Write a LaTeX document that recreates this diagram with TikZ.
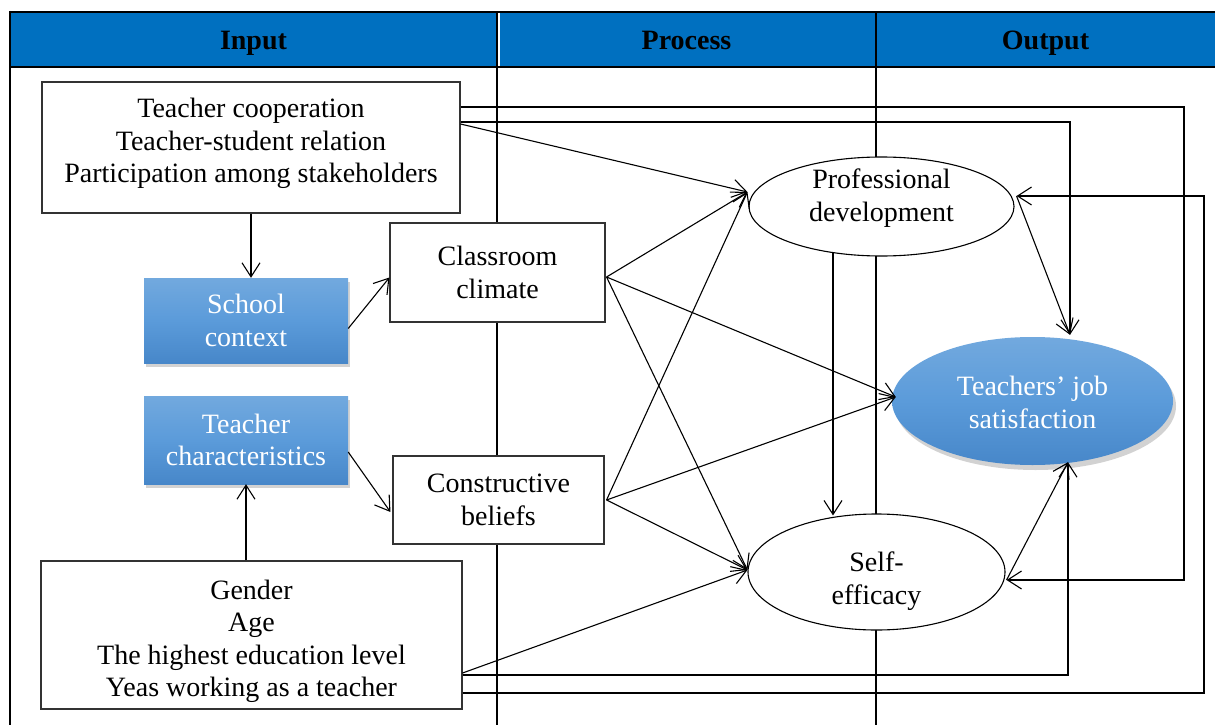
\documentclass[tikz,border=0pt]{standalone}
\usepackage{fontspec}
\setmainfont{Liberation Serif}
\usetikzlibrary{arrows.meta,shapes.geometric,shadows,calc}
\definecolor{hdr}{HTML}{0070C0}
\definecolor{btop}{HTML}{72A9DE}
\definecolor{bmid}{HTML}{5B9BDA}
\definecolor{bbot}{HTML}{4787C9}
\newcommand\myfs{\fontsize{28}{32.5}\selectfont}
\begin{document}
\begin{tikzpicture}[x=1pt,y=-1pt,
  tline/.style={line width=2.2pt, black},
  wbox/.style={rectangle, draw=black!80, line width=1.1pt, fill=white, align=center, inner sep=0pt, font=\myfs},
  bbox/.style={rectangle, top color=btop, bottom color=bbot, middle color=bmid, text=white, align=center, inner sep=0pt, font=\myfs,
     drop shadow={opacity=0.35, shadow xshift=2pt, shadow yshift=-4pt}},
  well/.style={ellipse, draw=black, line width=1.1pt, fill=white, inner sep=0pt},
  bell/.style={ellipse, top color=btop, bottom color=bbot, middle color=bmid, inner sep=0pt,
     drop shadow={opacity=0.35, shadow xshift=3pt, shadow yshift=-5pt}},
  txt/.style={align=center, inner sep=0pt, font=\myfs},
  hd/.style={inner sep=0pt, font=\myfs\bfseries, anchor=base},
  arr/.style={line width=1.1pt, -{Straight Barb[length=14pt,width=18pt]}},
  ln/.style={line width=1.1pt}]
\useasboundingbox (0,0) rectangle (1215,725);
\fill[white] (0,0) rectangle (1215,725);
% table
\fill[hdr] (10,12) rectangle (1215,67);
\draw[tline] (10,12) -- (1215,12);
\draw[tline] (10,67) -- (1215,67);
\draw[tline] (10,11) -- (10,725);
\draw[tline] (497,12) -- (497,725);
\draw[white, line width=1.2pt] (499,13) -- (499,66);
\draw[tline] (876,12) -- (876,725);
\node[hd] (hin) at (253.5,49) {Input};
\node[hd] (hpr) at (686.5,49) {Process};
\node[hd] (hout) at (1045.5,49) {Output};
% nodes
\node[wbox, minimum width=418pt, minimum height=131pt] (tb) at (251,147.5) {};
\node[txt] (tbt) at (251,143.5) {Teacher cooperation\\Teacher-student relation\\Participation among stakeholders};
\node[bbox, minimum width=204pt, minimum height=85pt] (sc) at (246,320.5) {School\\context};
\node[bbox, minimum width=204pt, minimum height=88pt] (tc) at (246,440) {Teacher\\characteristics};
\node[wbox, minimum width=215pt, minimum height=99pt] (cc) at (497.5,272.5) {Classroom\\climate};
\node[wbox, minimum width=211pt, minimum height=88pt] (cb) at (498.5,500) {Constructive\\beliefs};
\node[wbox, minimum width=421pt, minimum height=148pt] (bb) at (251.5,635) {};
\node[txt] (bbt) at (251.5,641.5) {Gender\\Age\\The highest education level\\Yeas working as a teacher};
\node[well, minimum width=265pt, minimum height=99pt] (pd) at (881.5,206.5) {};
\node[txt] (pdt) at (881.5,198) {Professional\\development};
\node[bell, minimum width=281pt, minimum height=128pt] (tjs) at (1032.5,401) {};
\node[txt, text=white] (tjst) at (1032.5,402.5) {Teachers’ job\\satisfaction};
\node[well, minimum width=257pt, minimum height=116pt] (se) at (876.5,572) {};
\node[txt] (set) at (876.5,581) {Self-\\efficacy};
% ports
\coordinate (tbA) at ($(tb.east)+(0,-40.5)$);
\coordinate (tbB) at ($(tb.east)+(0,-25.5)$);
\coordinate (tbC) at ($(tb.east)+(0,-23.5)$);
\coordinate (bbA) at ($(bb.east)+(0,38)$);
\coordinate (bbB) at ($(bb.east)+(0,40)$);
\coordinate (bbC) at ($(bb.east)+(0,58)$);
\coordinate (ccO) at ($(cc.east)+(1,4.5)$);
\coordinate (cbO) at ($(cb.east)+(2,0)$);
\coordinate (pdL) at ($(pd.west)+(-1,-14.5)$);
\coordinate (pdR) at ($(pd.east)+(2,-10.5)$);
\coordinate (pdB) at ($(pd.south)+(-48.5,-3.5)$);
\coordinate (tjL) at ($(tjs.west)+(4,-4)$);
\coordinate (tjT) at ($(tjs.north)+(37.5,-2)$);
\coordinate (tjB) at ($(tjs.south)+(35.5,-3)$);
\coordinate (seL) at ($(se.west)+(0,-2)$);
\coordinate (seR) at ($(se.east)+(1,8)$);
\coordinate (seT) at ($(se.north)+(-43.5,2)$);
\coordinate (r1) at (1184,0);
\coordinate (r2) at (1204,0);
% connectors
\draw[arr] (tb.south) -- (tb.south |- sc.north);
\draw[arr] (tc.south |- bb.north) -- (tc.south);
\draw[arr] ($(sc.east)+(0,8)$) -- ($(cc.west)+(0,5)$);
\draw[arr] ($(tc.east)+(0,12)$) -- ($(cb.west)+(-2,12)$);
\draw[arr] (ccO) -- (pdL);
\draw[arr] (ccO) -- (tjL);
\draw[arr] (ccO) -- (seL);
\draw[arr] (cbO) -- (pdL);
\draw[arr] (cbO) -- (tjL);
\draw[arr] (cbO) -- (seL);
\draw[arr] (tbC) -- (pdL);
\draw[arr] (tbB) -| (tjT);
\draw[arr] (tbA) -- (tbA -| r1) |- (seR);
\draw[arr] (bbC) -- (bbC -| r2) |- (pdR);
\draw[arr] (bbB) -| (tjB);
\draw[arr] (bbA) -- (seL);
\draw[arr] (pdR) -- (tjT);
\draw[arr] (seR) -- (tjB);
\draw[arr] (pdB) -- (seT);
\end{tikzpicture}
\end{document}
